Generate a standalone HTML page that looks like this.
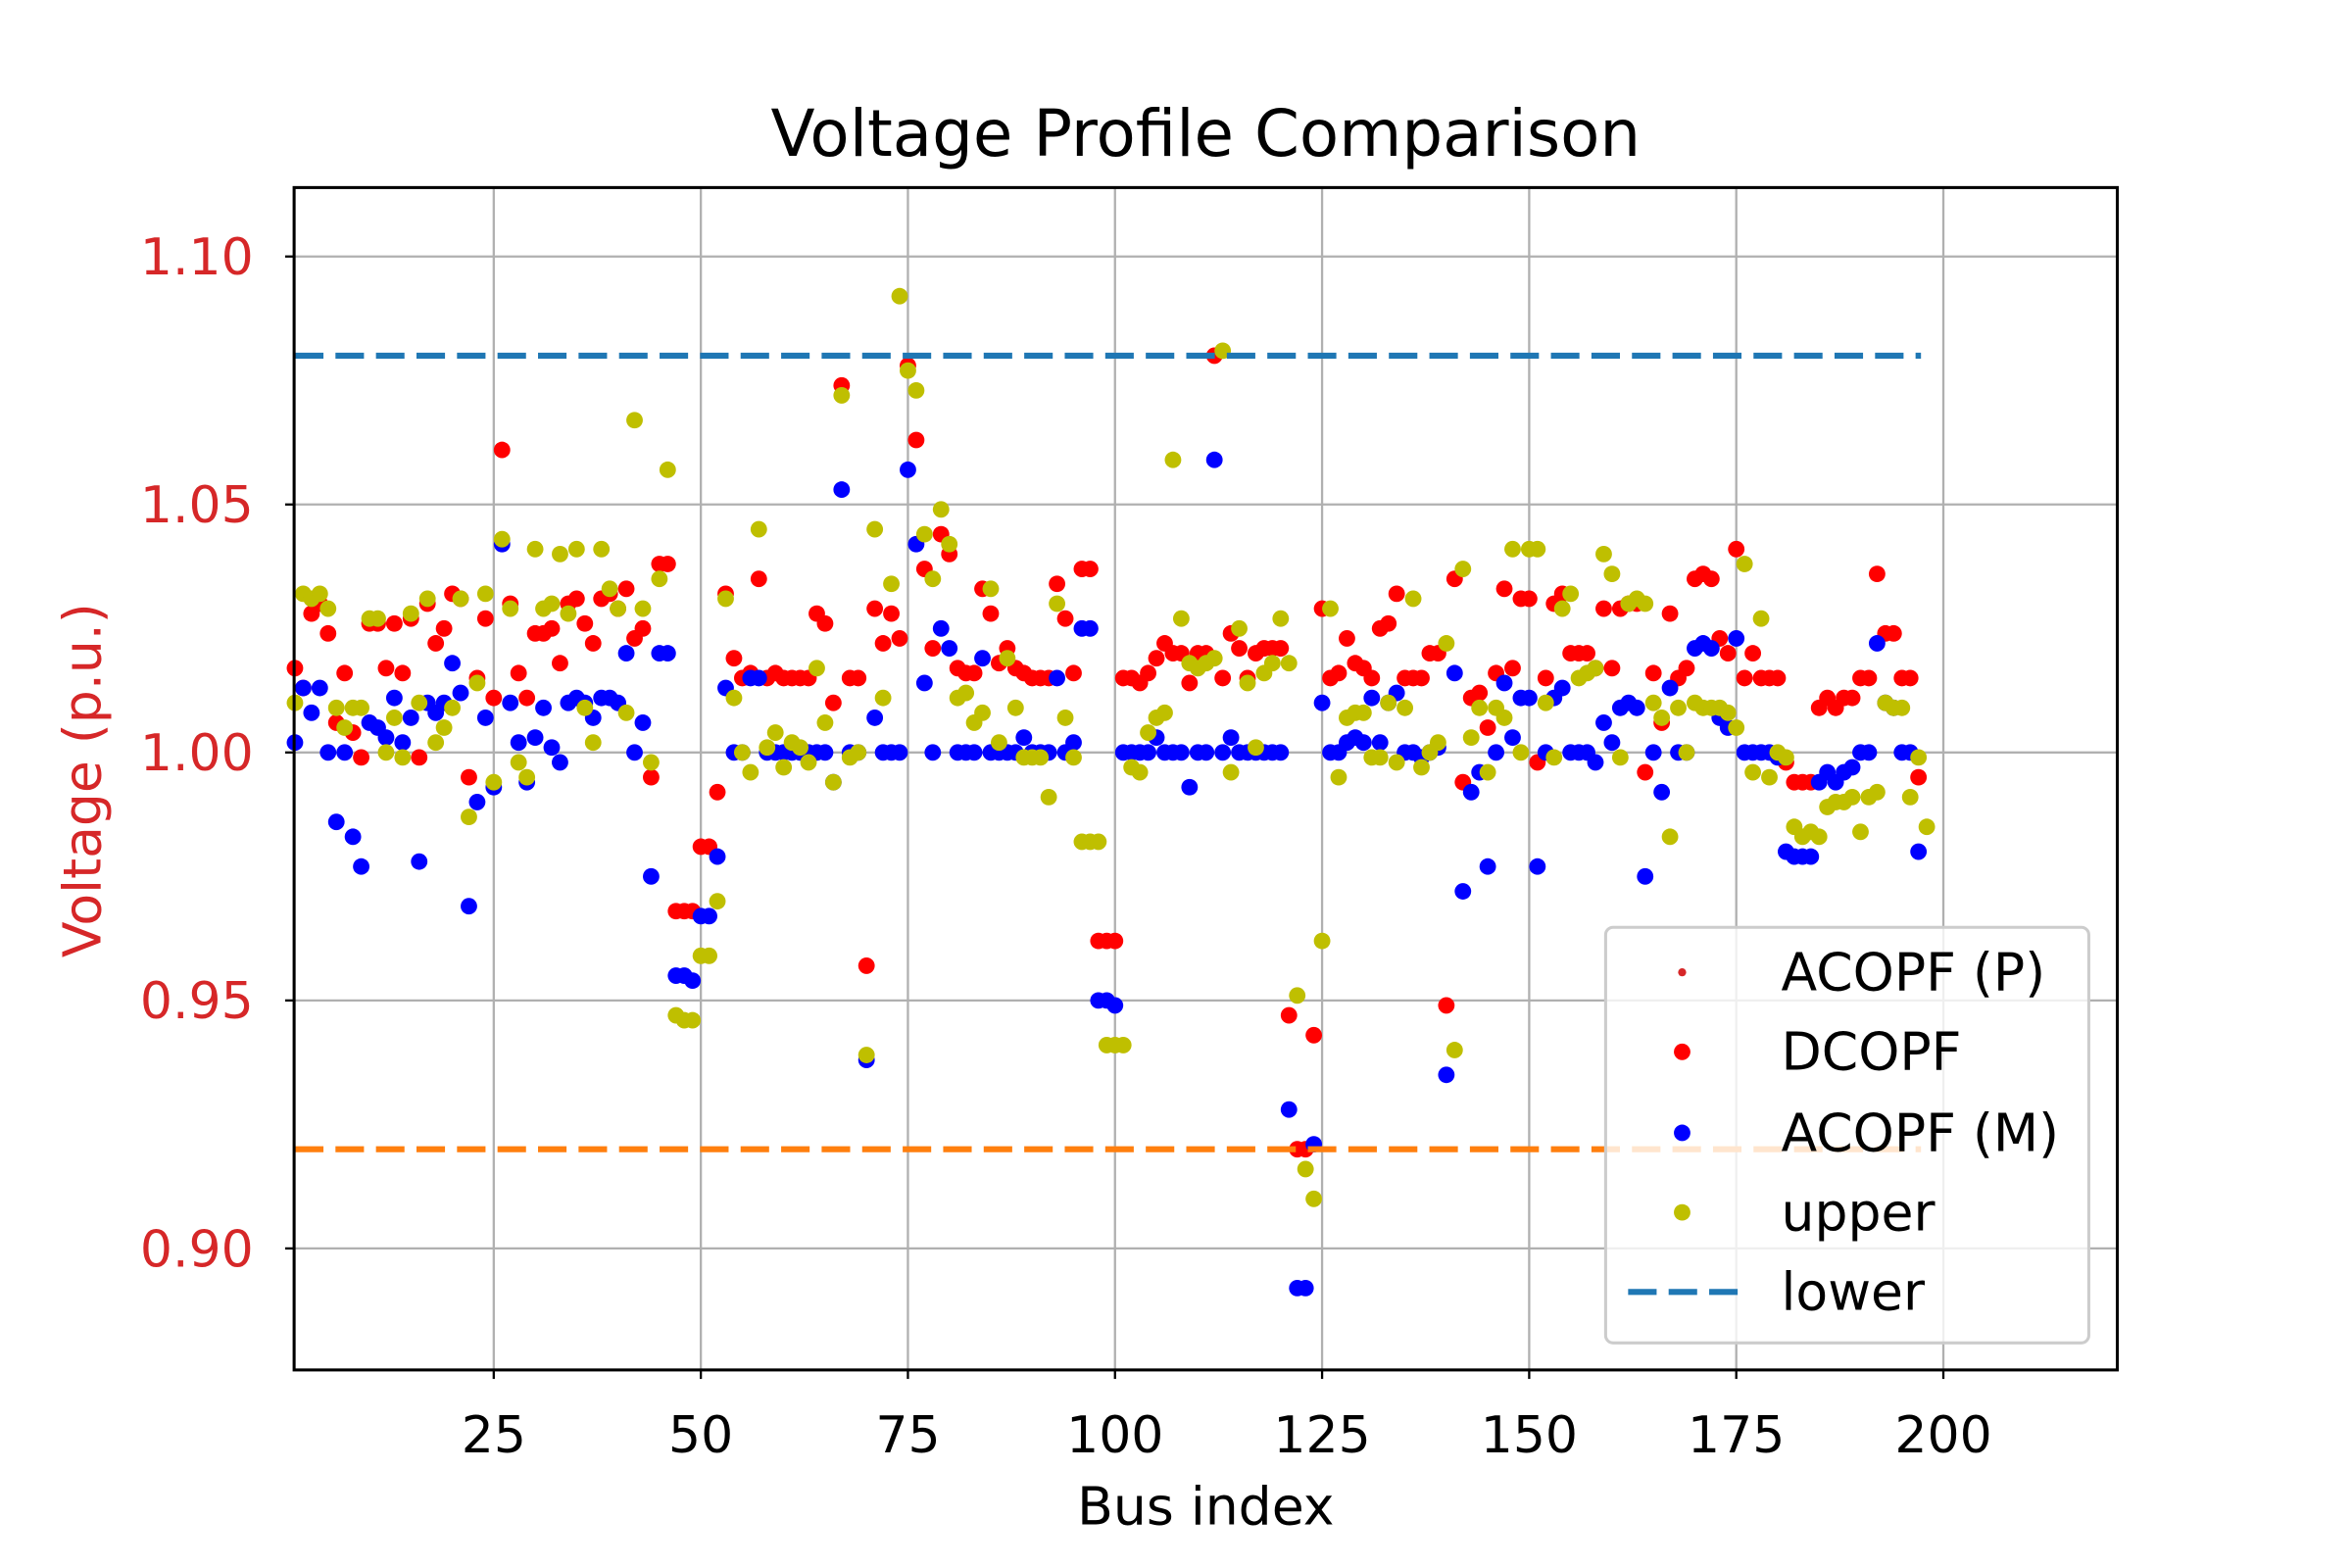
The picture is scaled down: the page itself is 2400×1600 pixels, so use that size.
<!DOCTYPE html>
<html><head><meta charset="utf-8">
<style>html,body{margin:0;padding:0;background:#fff}svg{display:block}text{font-family:"DejaVu Sans","Liberation Sans",sans-serif}</style>
</head><body>
<svg id="chart" width="2400" height="1600" viewBox="0 0 1567.4 1045" preserveAspectRatio="none" xmlns="http://www.w3.org/2000/svg">
<rect width="1568" height="1045" fill="#fff"/>
<text x="803.5" y="104" font-size="43" text-anchor="middle" fill="#000">Voltage Profile Comparison</text>
<g id="grid"></g>
<g id="series"></g>
<rect x="196" y="125" width="1215" height="788" fill="none" stroke="#000" stroke-width="2"/>
<g id="ticks"></g>
<text x="803.5" y="1016" font-size="35" text-anchor="middle" fill="#000">Bus index</text>
<text x="0" y="0" font-size="35" text-anchor="middle" fill="#d62728" transform="translate(67,520) rotate(-90)">Voltage (p.u.)</text>
<g id="legend">
<rect x="1070" y="618" width="322" height="277" rx="5" fill="#fff" fill-opacity="0.8" stroke="#ccc" stroke-width="2"/>
<g><circle cx="1121" cy="648" r="2.7" fill="#d62728"/><text x="1187" y="660" font-size="35">ACOPF (P)</text></g>
<g><circle cx="1121" cy="701" r="5.5" fill="#ff0000"/><text x="1187" y="713" font-size="35">DCOPF</text></g>
<g><circle cx="1121" cy="755" r="5.5" fill="#0000ff"/><text x="1187" y="767" font-size="35">ACOPF (M)</text></g>
<g><circle cx="1121" cy="808" r="5.5" fill="#bfbf00"/><text x="1187" y="820" font-size="35">upper</text></g>
<g><line x1="1085" y1="861" x2="1160" y2="861" stroke="#1f77b4" stroke-width="4" stroke-dasharray="19,8"/><text x="1187" y="873" font-size="35">lower</text></g>
</g>
</svg>
<script>
const xTicks=[25,50,75,100,125,150,175,200];
const yTicks=[0.90,0.95,1.00,1.05,1.10];
const yTickLabels=["0.90","0.95","1.00","1.05","1.10"];
const upperLimit=1.08;
const lowerLimit=0.92;
const limitStart=1;
const limitEnd=197.3;
const dcopf=[1.017,1.013,1.028,1.030,1.024,1.006,1.016,1.004,0.999,1.026,
1.026,1.017,1.026,1.016,1.027,0.999,1.030,1.022,1.025,1.032,
1.031,0.995,1.015,1.027,1.011,1.061,1.030,1.016,1.011,1.024,
1.024,1.025,1.018,1.030,1.031,1.026,1.022,1.031,1.032,1.029,
1.033,1.023,1.025,0.995,1.038,1.038,0.968,0.968,0.968,0.981,
0.981,0.992,1.032,1.019,1.015,1.016,1.035,1.015,1.016,1.015,
1.015,1.015,1.015,1.028,1.026,1.010,1.074,1.015,1.015,0.957,
1.029,1.022,1.028,1.023,1.078,1.063,1.037,1.021,1.044,1.040,
1.017,1.016,1.016,1.033,1.028,1.018,1.021,1.017,1.016,1.015,
1.015,1.015,1.034,1.027,1.016,1.037,1.037,0.962,0.962,0.962,
1.015,1.015,1.014,1.016,1.019,1.022,1.020,1.020,1.014,1.020,
1.020,1.080,1.015,1.024,1.021,1.015,1.020,1.021,1.021,1.021,
0.947,0.920,0.920,0.943,1.029,1.015,1.016,1.023,1.018,1.017,
1.015,1.025,1.026,1.032,1.015,1.015,1.015,1.020,1.020,0.949,
1.035,0.994,1.011,1.012,1.005,1.016,1.033,1.017,1.031,1.031,
0.998,1.015,1.030,1.032,1.020,1.020,1.020,1.017,1.029,1.017,
1.029,1.030,1.030,0.996,1.016,1.006,1.028,1.015,1.017,1.035,
1.036,1.035,1.023,1.020,1.041,1.015,1.020,1.015,1.015,1.015,
0.998,0.994,0.994,0.994,1.009,1.011,1.009,1.011,1.011,1.015,
1.015,1.036,1.024,1.024,1.015,1.015,0.995];
const acopfP=dcopf.slice();
const acopfM=[1.002,1.013,1.008,1.013,1.000,0.986,1.000,0.983,0.977,1.006,
1.005,1.003,1.011,1.002,1.007,0.978,1.010,1.008,1.010,1.018,
1.012,0.969,0.990,1.007,0.993,1.042,1.010,1.002,0.994,1.003,
1.009,1.001,0.998,1.010,1.011,1.010,1.007,1.011,1.011,1.010,
1.020,1.000,1.006,0.975,1.020,1.020,0.955,0.955,0.954,0.967,
0.967,0.979,1.013,1.000,1.000,1.015,1.015,1.000,1.000,1.000,
1.000,1.000,1.000,1.000,1.000,0.994,1.053,1.000,1.000,0.938,
1.007,1.000,1.000,1.000,1.057,1.042,1.014,1.000,1.025,1.021,
1.000,1.000,1.000,1.019,1.000,1.000,1.000,1.000,1.003,1.000,
1.000,1.000,1.015,1.000,1.002,1.025,1.025,0.950,0.950,0.949,
1.000,1.000,1.000,1.000,1.003,1.000,1.000,1.000,0.993,1.000,
1.000,1.059,1.000,1.003,1.000,1.000,1.000,1.000,1.000,1.000,
0.928,0.892,0.892,0.921,1.010,1.000,1.000,1.002,1.003,1.002,
1.011,1.002,1.010,1.012,1.000,1.000,0.999,1.000,1.001,0.935,
1.016,0.972,0.992,0.996,0.977,1.000,1.014,1.003,1.011,1.011,
0.977,1.000,1.011,1.013,1.000,1.000,1.000,0.998,1.006,1.002,
1.009,1.010,1.009,0.975,1.000,0.992,1.013,1.000,1.000,1.021,
1.022,1.021,1.007,1.005,1.023,1.000,1.000,1.000,1.000,0.999,
0.980,0.979,0.979,0.979,0.994,0.996,0.994,0.996,0.997,1.000,
1.000,1.022,1.010,1.009,1.000,1.000,0.980];
const upper=[1.010,1.032,1.031,1.032,1.029,1.009,1.005,1.009,1.009,1.027,
1.027,1.000,1.007,0.999,1.028,1.010,1.031,1.002,1.005,1.009,
1.031,0.987,1.014,1.032,0.994,1.043,1.029,0.998,0.995,1.041,
1.029,1.030,1.040,1.028,1.041,1.009,1.002,1.041,1.033,1.029,
1.008,1.067,1.029,0.998,1.035,1.057,0.947,0.946,0.946,0.959,
0.959,0.970,1.031,1.011,1.000,0.996,1.045,1.001,1.004,0.997,
1.002,1.001,0.998,1.017,1.006,0.994,1.072,0.999,1.000,0.939,
1.045,1.011,1.034,1.092,1.077,1.073,1.044,1.035,1.049,1.042,
1.011,1.012,1.006,1.008,1.033,1.002,1.019,1.009,0.999,0.999,
0.999,0.991,1.030,1.007,0.999,0.982,0.982,0.982,0.941,0.941,
0.941,0.997,0.996,1.004,1.007,1.008,1.059,1.027,1.018,1.017,
1.018,1.019,1.081,0.996,1.025,1.014,1.001,1.016,1.018,1.027,
1.018,0.951,0.916,0.910,0.962,1.029,0.995,1.007,1.008,1.008,
0.999,0.999,1.010,0.998,1.009,1.031,0.997,1.000,1.002,1.022,
0.940,1.037,1.003,1.009,0.996,1.009,1.007,1.041,1.000,1.041,
1.041,1.010,0.999,1.029,1.032,1.015,1.016,1.017,1.040,1.036,
0.999,1.030,1.031,1.030,1.010,1.007,0.983,1.009,1.000,1.010,
1.009,1.009,1.009,1.008,1.005,1.038,0.996,1.027,0.995,1.000,
0.999,0.985,0.983,0.984,0.983,0.989,0.990,0.990,0.991,0.984,
0.991,0.992,1.010,1.009,1.009,0.991,0.999,0.985];

const NS="http://www.w3.org/2000/svg";
const X0=196,X1=1411,Y0=125,Y1=913;
const xMin=0.9,xMax=221,yMin=0.8755,yMax=1.1139;
function xs(v){return X0+(v-xMin)/(xMax-xMin)*(X1-X0);}
function ys(v){return Y1-(v-yMin)/(yMax-yMin)*(Y1-Y0);}
function mk(tag,attrs,parent){const e=document.createElementNS(NS,tag);for(const k in attrs)e.setAttribute(k,attrs[k]);parent.appendChild(e);return e;}

const grid=document.getElementById('grid');
const ticks=document.getElementById('ticks');
xTicks.forEach(t=>{
  const gl=mk('line',{x1:xs(t),x2:xs(t),y1:Y0,y2:Y1,stroke:'#b0b0b0','stroke-width':1.5},grid);
  
  
  const tk=mk('line',{x1:xs(t),x2:xs(t),y1:Y1,y2:Y1+6,stroke:'#000','stroke-width':1.5},ticks);
  
  
  const tl=mk('text',{x:xs(t),y:Y1+55,'font-size':34,'text-anchor':'middle',fill:'#000'},ticks);
  tl.textContent=String(t);
  
  
});
yTicks.forEach((t,i)=>{
  const gl=mk('line',{x1:X0,x2:X1,y1:ys(t),y2:ys(t),stroke:'#b0b0b0','stroke-width':1.5},grid);
  
  
  const tk=mk('line',{x1:X0-6,x2:X0,y1:ys(t),y2:ys(t),stroke:'#000','stroke-width':1.5},ticks);
  
  
  const tl=mk('text',{x:X0-27,y:ys(t)+12,'font-size':34,'text-anchor':'end',fill:'#d62728'},ticks);
  tl.textContent=yTickLabels[i];
  
  
});

const series=document.getElementById('series');
function scatter(arr,r,color,name){
  arr.forEach((v,i)=>{
    const c=mk('circle',{cx:xs(i+1),cy:ys(v),r:r,fill:color},series);
    
    
  });
}
scatter(acopfP,2.7,'#d62728','acopf-p-point');
scatter(dcopf,5.5,'#ff0000','dcopf-point');
scatter(acopfM,5.5,'#0000ff','acopf-m-point');
scatter(upper,5.5,'#bfbf00','upper-point');
const ul=mk('line',{x1:xs(limitStart),x2:xs(limitEnd),y1:ys(upperLimit),y2:ys(upperLimit),stroke:'#1f77b4','stroke-width':4,'stroke-dasharray':'19,8'},series);


const ll=mk('line',{x1:xs(limitStart),x2:xs(limitEnd),y1:ys(lowerLimit),y2:ys(lowerLimit),stroke:'#ff7f0e','stroke-width':4,'stroke-dasharray':'19,8'},series);


</script>
</body></html>
